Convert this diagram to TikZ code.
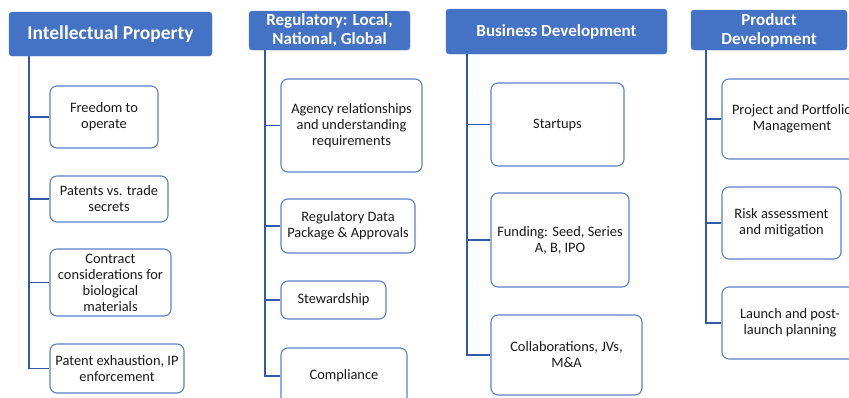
\documentclass[tikz,border=0pt]{standalone}
\usepackage{fontspec}
\setmainfont{Carlito}
\definecolor{hdrblue}{HTML}{4472C4}
\definecolor{boxblue}{HTML}{5A80C8}
\definecolor{linkblue}{HTML}{3258A8}
\definecolor{txt}{HTML}{1A1A1A}
\begin{document}
\begin{tikzpicture}[x=1pt,y=-1pt,
  hdr/.style={fill=hdrblue,draw=hdrblue!90!white,rounded corners=3pt,text=white,
    font=\fontsize{17}{19}\selectfont\bfseries,align=center,inner sep=0pt},
  leaf/.style={draw=boxblue,line width=1.1pt,rounded corners=7pt,fill=white,text=txt,
    font=\fontsize{14.4}{16}\selectfont,align=center,inner sep=0pt},
  link/.style={draw=linkblue,line width=1.4pt}]
\useasboundingbox (0,0) rectangle (849,397);
\clip (0,0) rectangle (849,397);
% column 1
\node[hdr,minimum width=203pt,minimum height=44pt,font=\fontsize{19.5}{22}\selectfont\bfseries] (h1) at (110.5,34) {Intellectual Property};
\node[leaf,minimum width=108pt,minimum height=62pt] (b11) at (104,117) {Freedom to\\operate};
\node[leaf,minimum width=118pt,minimum height=46pt] (b12) at (109,199) {Patents vs. trade\\secrets};
\node[leaf,minimum width=121pt,minimum height=67pt] (b13) at (110.5,282.5) {Contract\\considerations for\\biological\\materials};
\node[leaf,minimum width=134pt,minimum height=49pt] (b14) at (117,368.5) {Patent exhaustion, IP\\enforcement};
\coordinate (t1) at (29,56);
\draw[link] (t1) |- (b14.west);
\foreach \b in {b11,b12,b13} \draw[link] (t1 |- \b.west) -- (\b.west);
% column 2
\node[hdr,minimum width=161pt,minimum height=39pt] (h2) at (329.5,30.5) {Regulatory: Local,\\National, Global};
\node[leaf,minimum width=141pt,minimum height=93pt] (b21) at (351.5,125.5) {Agency relationships\\and understanding\\requirements};
\node[leaf,minimum width=134pt,minimum height=54pt] (b22) at (348,226) {Regulatory Data\\Package \& Approvals};
\node[leaf,minimum width=105pt,minimum height=38pt] (b23) at (333.5,300) {Stewardship};
\node[leaf,minimum width=126pt,minimum height=56pt] (b24) at (344,376) {Compliance};
\coordinate (t2) at (265,50);
\draw[link] (t2) |- (b24.west);
\foreach \b in {b21,b22,b23} \draw[link] (t2 |- \b.west) -- (\b.west);
% column 3
\node[hdr,minimum width=221pt,minimum height=45pt] (h3) at (556.5,31.5) {Business Development};
\node[leaf,minimum width=133pt,minimum height=83pt] (b31) at (557.5,124.5) {Startups};
\node[leaf,minimum width=138pt,minimum height=94pt] (b32) at (560,240) {Funding: Seed, Series\\A, B, IPO};
\node[leaf,minimum width=151pt,minimum height=80pt] (b33) at (566.5,355) {Collaborations, JVs,\\M\&A};
\coordinate (t3) at (467,54);
\draw[link] (t3) |- (b33.west);
\foreach \b in {b31,b32} \draw[link] (t3 |- \b.west) -- (\b.west);
% column 4
\node[hdr,minimum width=156pt,minimum height=40pt] (h4) at (769,30) {Product\\Development};
\node[leaf,minimum width=140pt,minimum height=80pt] (b41) at (792,119) {Project and Portfolio\\Management};
\node[leaf,minimum width=119pt,minimum height=72pt] (b42) at (781.5,223) {Risk assessment\\and mitigation};
\node[leaf,minimum width=136pt,minimum height=72pt] (b43) at (790,323) {Launch and post-\\launch planning};
\coordinate (t4) at (706,50);
\draw[link] (t4) |- (b43.west);
\foreach \b in {b41,b42} \draw[link] (t4 |- \b.west) -- (\b.west);
\end{tikzpicture}
\end{document}
